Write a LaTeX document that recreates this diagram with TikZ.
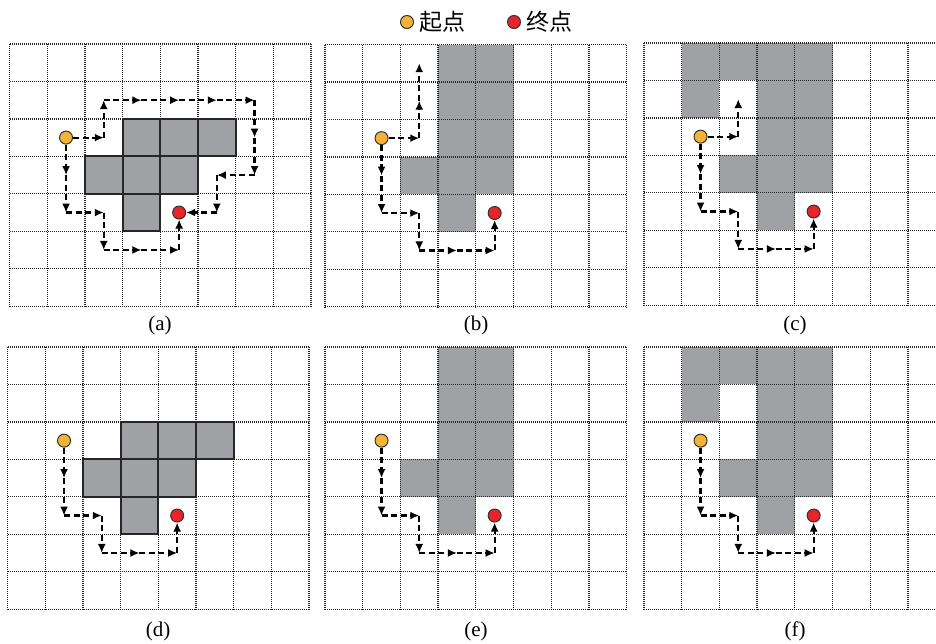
\documentclass[tikz,border=0pt]{standalone}
\usepackage{fontspec}
\setmainfont{Liberation Serif}
\newfontfamily\cjk{Noto Sans CJK SC}
\usetikzlibrary{arrows.meta}
\definecolor{obst}{RGB}{160,161,165}
\definecolor{startc}{RGB}{245,178,52}
\definecolor{endc}{RGB}{232,36,40}
\tikzset{
 gridline/.style={dash pattern=on 1.1pt off 0.9pt, line width=1.3pt, black!85},
 obstacle/.style={fill=obst},
 obstborder/.style={draw=black!85, line width=1.8pt},
 startpt/.style={circle, fill=startc, draw=black!80, line width=1pt, minimum size=13pt, inner sep=0pt},
 endpt/.style={circle, fill=endc, draw=black!80, line width=1pt, minimum size=13pt, inner sep=0pt},
 route/.style={dash pattern=on 6pt off 3.5pt, line width=2.2pt, -{Latex[length=9pt,width=8pt]}},
 caption/.style={font=\fontsize{21}{24}\selectfont},
 legendtext/.style={font=\cjk\fontsize{23}{26}\selectfont, inner sep=0pt}
}
\newcommand\cw{37.7}
\newcommand\ch{37.45}
% name, left, top, obstacle list, solid borders (1/0)
\newcommand\mkpanel[5]{%
  \foreach \i/\j in {#4}
    \fill[obstacle] ({#2+\i*\cw},{#3+\j*\ch}) rectangle ++(\cw,\ch);
  \foreach \i in {0,...,8}
    \draw[gridline] ({#2+\i*\cw},#3) -- ({#2+\i*\cw},{#3+7*\ch});
  \foreach \j in {0,...,7}
    \draw[gridline] (#2,{#3+\j*\ch}) -- ({#2+8*\cw},{#3+\j*\ch});
  \ifnum#5=1
  \foreach \i/\j in {#4}
    \draw[obstborder] ({#2+\i*\cw},{#3+\j*\ch}) rectangle ++(\cw,\ch);
  \fi
  \foreach \i in {0,...,7} \foreach \j in {0,...,6}
    \coordinate (#1-\i-\j) at ({#2+(\i+0.5)*\cw},{#3+(\j+0.5)*\ch});
  \node[startpt] (#1-s) at (#1-1-2) {};
  \node[endpt] (#1-e) at (#1-4-4) {};
  \foreach \p/\q in {s/1-3,1-3/1-4,1-4/2-4,2-4/2-5,2-5/3-5,3-5/4-5,4-5/e}
    \draw[route] (#1-\p) -- (#1-\q);
}
\begin{document}
\begin{tikzpicture}[x=1pt,y=-1pt]
\useasboundingbox (0,0) rectangle (936,643);
\clip (0,0) rectangle (936,643);
% legend
\node[startpt] (legS) at (407,22) {};
\node[legendtext, anchor=west, xshift=5pt] (legSt) at (legS.east) {起点};
\node[endpt] (legE) at (514,22) {};
\node[legendtext, anchor=west, xshift=5pt] (legEt) at (legE.east) {终点};
% panels
\mkpanel{a}{9.5}{44}{3/2,4/2,5/2,2/3,3/3,4/3,3/4}{1}
\mkpanel{b}{325}{44.5}{3/0,4/0,3/1,4/1,3/2,4/2,2/3,3/3,4/3,3/4}{0}
\mkpanel{c}{644}{43}{1/0,2/0,3/0,4/0,1/1,3/1,4/1,3/2,4/2,2/3,3/3,4/3,3/4}{0}
\mkpanel{d}{7.5}{347}{3/2,4/2,5/2,2/3,3/3,4/3,3/4}{1}
\mkpanel{e}{325}{347}{3/0,4/0,3/1,4/1,3/2,4/2,2/3,3/3,4/3,3/4}{0}
\mkpanel{f}{644}{347}{1/0,2/0,3/0,4/0,1/1,3/1,4/1,3/2,4/2,2/3,3/3,4/3,3/4}{0}
% upper routes
\foreach \p/\q in {s/2-2,2-2/2-1,2-1/3-1,3-1/4-1,4-1/5-1,5-1/6-1,6-1/6-2,6-2/6-3,6-3/5-3,5-3/5-4,5-4/e}
  \draw[route] (a-\p) -- (a-\q);
\foreach \p/\q in {s/2-2,2-2/2-1,2-1/2-0}
  \draw[route] (b-\p) -- (b-\q);
\foreach \p/\q in {s/2-2,2-2/2-1}
  \draw[route] (c-\p) -- (c-\q);
% captions
\node[caption] (capa) at (160,325) {(a)};
\node[caption] (capb) at (476,325) {(b)};
\node[caption] (capc) at (795,325) {(c)};
\node[caption] (capd) at (158,631) {(d)};
\node[caption] (cape) at (476,631) {(e)};
\node[caption] (capf) at (795,631) {(f)};
\end{tikzpicture}
\end{document}
